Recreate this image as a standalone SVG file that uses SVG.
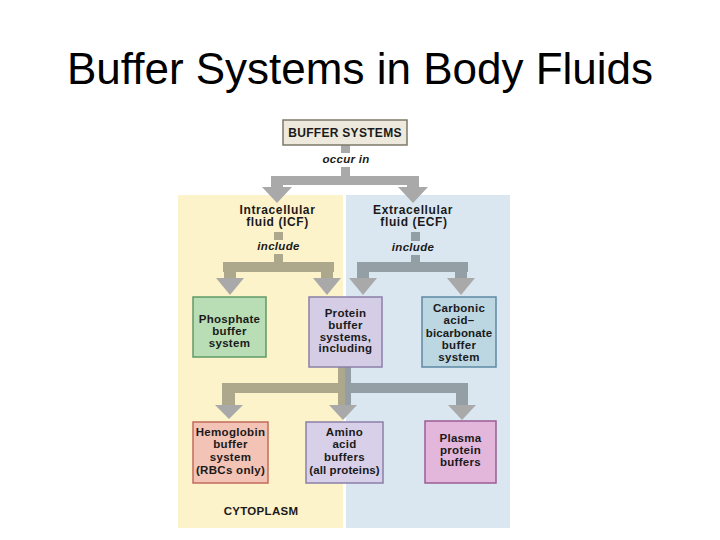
<svg xmlns="http://www.w3.org/2000/svg" width="720" height="540" viewBox="0 0 720 540">
  <style>
    .title { font-family: "Liberation Sans", Arial, sans-serif; font-size: 44px; fill: #000; }
    .lbl { font-family: "Liberation Sans", Arial, sans-serif; font-size: 11.5px; font-weight: bold; fill: #1a1a1a; text-anchor: middle; letter-spacing: 0.3px; }
    .hd { font-size: 12px; letter-spacing: 0.6px; }
    .it { font-style: italic; }
    .gray { fill: #a9a9a9; }
    .tan { fill: #ada78b; }
    .slate { fill: #939ea5; }
    .box { stroke-width: 1.5; }
  </style>
  <rect width="720" height="540" fill="#ffffff"/>
  <text class="title" x="360" y="84" text-anchor="middle">Buffer Systems in Body Fluids</text>

  <g id="panels">
    <rect x="178" y="195" width="165" height="333" fill="#fdf3cb"/>
    <rect x="346" y="195" width="164" height="333" fill="#dae7f1"/>
  </g>

  <g id="connectors">
    <!-- occur in -->
    <rect class="gray" x="341" y="145" width="9" height="8"/>
    <rect class="gray" x="341" y="167" width="9" height="10"/>
    <rect class="gray" x="271" y="176" width="148" height="9"/>
    <rect class="gray" x="271" y="184" width="12" height="4"/>
    <polygon class="gray" points="262,187 292,187 277,203"/>
    <rect class="gray" x="407" y="184" width="12" height="4"/>
    <polygon class="gray" points="398,187 428,187 413,203"/>
    <!-- ICF include -->
    <rect class="tan" x="274" y="232" width="9" height="8"/>
    <rect class="tan" x="274" y="254" width="9" height="9"/>
    <rect class="tan" x="223" y="262" width="111" height="10"/>
    <rect class="tan" x="224" y="271" width="12" height="8"/>
    <polygon class="gray" points="216,278 244,278 230,295"/>
    <rect class="tan" x="321" y="271" width="12" height="8"/>
    <polygon class="gray" points="313,278 341,278 327,295"/>
    <!-- ECF include -->
    <rect class="slate" x="411" y="232" width="9" height="9"/>
    <rect class="slate" x="411" y="255" width="9" height="8"/>
    <rect class="slate" x="357" y="262" width="111" height="10"/>
    <rect class="slate" x="357" y="271" width="12" height="8"/>
    <polygon class="gray" points="349,278 377,278 363,295"/>
    <rect class="slate" x="455" y="271" width="12" height="8"/>
    <polygon class="gray" points="447,278 475,278 461,295"/>
    <!-- including -->
    <rect class="tan" x="222" y="383" width="123" height="10"/>
    <rect class="tan" x="338" y="367" width="7" height="39"/>
    <rect class="slate" x="345" y="383" width="123" height="10"/>
    <rect class="slate" x="345" y="367" width="6" height="39"/>
    <rect class="tan" x="222" y="392" width="13" height="14"/>
    <polygon class="gray" points="215,405 243,405 229,419"/>
    <polygon class="gray" points="329,405 357,405 343,420"/>
    <rect class="slate" x="456" y="392" width="12" height="14"/>
    <polygon class="gray" points="448,405 476,405 462,420"/>
  </g>

  <g id="buffer-systems">
    <rect class="box" x="283" y="120" width="124" height="25" fill="#ede9dc" stroke="#7d7868"/>
    <text class="lbl hd" x="345" y="137" style="letter-spacing:0.3px">BUFFER SYSTEMS</text>
  </g>
  <g id="occur-in"><text class="lbl it" x="346" y="163">occur in</text></g>

  <g id="icf">
    <text class="lbl hd" x="277.5" y="213.5">Intracellular</text>
    <text class="lbl hd" x="277.5" y="226">fluid (ICF)</text>
    <text class="lbl it" x="278.5" y="250">include</text>
  </g>
  <g id="ecf">
    <text class="lbl hd" x="413" y="213.5">Extracellular</text>
    <text class="lbl hd" x="414" y="226">fluid (ECF)</text>
    <text class="lbl it" x="413" y="251">include</text>
  </g>

  <g id="phosphate">
    <rect class="box" x="193" y="297" width="73" height="60" fill="#b9ddb4" stroke="#5f9a68"/>
    <text class="lbl" x="229.5" y="323">Phosphate</text>
    <text class="lbl" x="229.5" y="335">buffer</text>
    <text class="lbl" x="229.5" y="347">system</text>
  </g>
  <g id="protein">
    <rect class="box" x="309" y="297" width="73" height="70" fill="#d5cde6" stroke="#8b7fa8"/>
    <text class="lbl" x="345.5" y="317">Protein</text>
    <text class="lbl" x="345.5" y="329">buffer</text>
    <text class="lbl" x="345.5" y="340.5">systems,</text>
    <text class="lbl" x="345.5" y="352">including</text>
  </g>
  <g id="carbonic">
    <rect class="box" x="422" y="297" width="74" height="70" fill="#bcd6e2" stroke="#5d8aa3"/>
    <text class="lbl" x="459" y="312">Carbonic</text>
    <text class="lbl" x="459" y="324">acid–</text>
    <text class="lbl" x="459" y="336.5" style="letter-spacing:0.1px">bicarbonate</text>
    <text class="lbl" x="459" y="348.5">buffer</text>
    <text class="lbl" x="459" y="361">system</text>
  </g>
  <g id="hemoglobin">
    <rect class="box" x="193" y="422" width="75" height="61" fill="#f3c3b5" stroke="#c26b5c"/>
    <text class="lbl" x="230.5" y="436">Hemoglobin</text>
    <text class="lbl" x="230.5" y="448">buffer</text>
    <text class="lbl" x="230.5" y="461">system</text>
    <text class="lbl" x="230.5" y="474">(RBCs only)</text>
  </g>
  <g id="amino">
    <rect class="box" x="306" y="422" width="77" height="61" fill="#d8d0e8" stroke="#8b7fa8"/>
    <text class="lbl" x="344.5" y="436">Amino</text>
    <text class="lbl" x="344.5" y="448">acid</text>
    <text class="lbl" x="344.5" y="461">buffers</text>
    <text class="lbl" x="344.5" y="474" style="letter-spacing:0.1px">(all proteins)</text>
  </g>
  <g id="plasma">
    <rect class="box" x="425" y="421" width="71" height="62" fill="#e3b6dc" stroke="#9c5c94"/>
    <text class="lbl" x="460.5" y="442">Plasma</text>
    <text class="lbl" x="460.5" y="454">protein</text>
    <text class="lbl" x="460.5" y="466">buffers</text>
  </g>
  <g id="cytoplasm"><text class="lbl" x="261" y="515">CYTOPLASM</text></g>
</svg>
